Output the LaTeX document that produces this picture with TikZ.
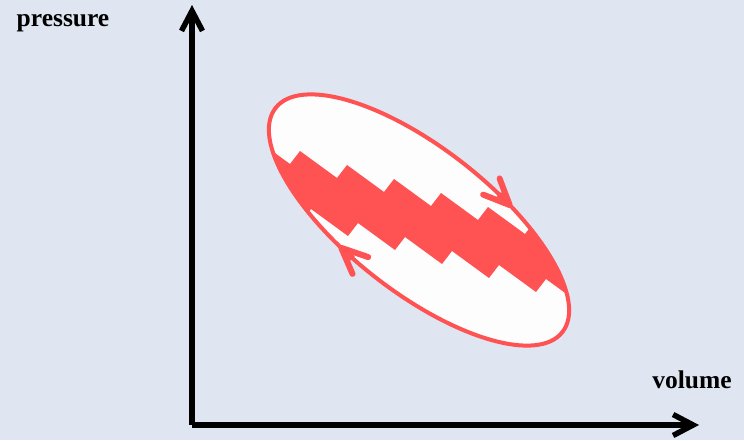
\documentclass[tikz,border=0pt]{standalone}
\usepackage{fontspec}
\setmainfont{Liberation Serif}
\usepackage{tikz}
\usetikzlibrary{arrows.meta}
\definecolor{paper}   {HTML}{DFE6F1}
\definecolor{cyclered}{HTML}{FF5252}
\definecolor{inner}   {HTML}{FDFDFD}

\tikzset{
  axis/.style={line width=5.5pt, -{Straight Barb[length=20pt, width=21pt]}},
  loopline/.style={draw=cyclered, line width=4pt},
  looparrow/.style={draw=cyclered, line width=6pt,
    -{Straight Barb[length=26pt, width=23pt, round]}},
  axislabel/.style={font=\fontsize{25.5}{30}\selectfont\bfseries, anchor=base, inner sep=0pt}
}

\begin{document}
\begin{tikzpicture}[x=1pt, y=1pt]
  \useasboundingbox[fill=paper] (0,0) rectangle (744,440);

  % axes
  \coordinate (origin) at (192,15);
  \coordinate (ptop)   at (192,435);
  \coordinate (vright) at (699,15);
  \draw[axis] (origin) -- (ptop);
  \draw[axis] (origin) -- (vright);
  \node[axislabel] (pressure) at (63,413)  {pressure};
  \node[axislabel] (volume)   at (692,52)  {volume};

  % cycle
  \coordinate (centre) at (419,220);
  \fill[inner, shift={(centre)}, rotate=-38] (0,0) ellipse [x radius=182, y radius=72];
  \begin{scope}
    \clip[shift={(centre)}, rotate=-38] (0,0) ellipse [x radius=182, y radius=72];
    \fill[cyclered] (253,303)
      \foreach \k in {1,...,8} { -- ++(37,-27) -- ++(10,13) }
      -- ++(11,-58)
      \foreach \k in {1,...,8} { -- ++(-10,-13) -- ++(-37,27) }
      -- cycle;
  \end{scope}
  \draw[loopline, shift={(centre)}, rotate=-38] (0,0) ellipse [x radius=182, y radius=72];

  % direction
  \draw[looparrow, shift={(centre)}, rotate=-38] (75:182 and 72) -- (69:182 and 72);
  \draw[looparrow, shift={(centre)}, rotate=-38] (261:182 and 72) -- (255:182 and 72);
\end{tikzpicture}
\end{document}
